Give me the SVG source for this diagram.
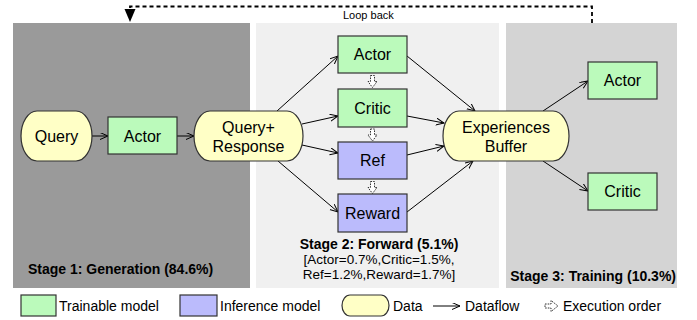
<svg xmlns="http://www.w3.org/2000/svg" width="697" height="320" viewBox="0 0 697 320">
<defs>
<marker id="arr" markerUnits="userSpaceOnUse" markerWidth="10" markerHeight="8" refX="8" refY="3.5" orient="auto">
<path d="M0,0 L8,3.5 L0,7" fill="none" stroke="#000" stroke-width="1"/>
</marker>
</defs>
<style>
text{font-family:"Liberation Sans",Arial,sans-serif;fill:#000}
.lbl{font-size:16px;text-anchor:middle}
.stg{font-size:14px;font-weight:bold}
.sm{font-size:13.5px}
.leg{font-size:14px}
.tr{fill:#bbfabb;stroke:#333;stroke-width:1.2}
.inf{fill:#bbbbfc;stroke:#333;stroke-width:1.2}
.data{fill:#ffffc6;stroke:#333;stroke-width:1.2}
.flow{fill:none;stroke:#000;stroke-width:1;marker-end:url(#arr)}
.ex{fill:#fff;stroke:#333;stroke-width:1;stroke-dasharray:1.6 1.1}
</style>
<g id="panels">
<rect x="13" y="23" width="237" height="265" fill="#9a9a9a"/>
<rect x="256" y="23" width="243" height="265" fill="#f0f0f0"/>
<rect x="506" y="23" width="171" height="265" fill="#d4d4d4"/>
<text class="stg" x="28" y="274">Stage 1: Generation (84.6%)</text>
<text class="stg" x="379" y="249" text-anchor="middle">Stage 2: Forward (5.1%)</text>
<text class="sm" x="379" y="264" text-anchor="middle">[Actor=0.7%,Critic=1.5%,</text>
<text class="sm" x="379" y="279" text-anchor="middle">Ref=1.2%,Reward=1.7%]</text>
<text class="stg" x="676" y="281" text-anchor="end">Stage 3: Training (10.3%)</text>
</g>
<g id="loop">
<path d="M592,23 V6.5 H130 V10" fill="none" stroke="#000" stroke-width="1.8" stroke-dasharray="4 3"/>
<path d="M124.5,9 L135.5,9 L130,22 Z" fill="#000"/>
<text x="343" y="19" style="font-size:11px">Loop back</text>
</g>
<g id="connectors">
<path class="flow" d="M92,136 L108,136"/>
<path class="flow" d="M177,136 L194,136"/>
<path class="flow" d="M277,111 L338,56"/>
<path class="flow" d="M302,124 L338,116"/>
<path class="flow" d="M302,145 L338,153"/>
<path class="flow" d="M278,161 L338,212"/>
<path class="flow" d="M407,56 L475,111"/>
<path class="flow" d="M407,116 L444,123"/>
<path class="flow" d="M407,155 L444,146"/>
<path class="flow" d="M407,212 L473,161"/>
<path class="flow" d="M543,111 L588,81"/>
<path class="flow" d="M543,161 L588,191"/>
<path class="ex" d="M370.5,75.5 H374.5 V81.5 H377 L372.5,87.5 L368,81.5 H370.5 Z"/>
<path class="ex" d="M370.5,129 H374.5 V135 H377 L372.5,141 L368,135 H370.5 Z"/>
<path class="ex" d="M370.5,181.5 H374.5 V187.5 H377 L372.5,193.5 L368,187.5 H370.5 Z"/>
</g>
<g id="query">
<rect class="data" x="21" y="111" width="71" height="50" rx="16" ry="25"/>
<text class="lbl" x="56.5" y="142">Query</text>
</g>
<g id="actor1">
<rect class="tr" x="108" y="117" width="69" height="37"/>
<text class="lbl" x="142.5" y="142">Actor</text>
</g>
<g id="qr">
<rect class="data" x="194" y="111" width="109" height="50" rx="16" ry="25"/>
<text class="lbl" x="248.5" y="133">Query+</text>
<text class="lbl" x="248.5" y="152">Response</text>
</g>
<g id="actor2">
<rect class="tr" x="338" y="36" width="69" height="37"/>
<text class="lbl" x="372.5" y="60">Actor</text>
</g>
<g id="critic2">
<rect class="tr" x="338" y="89" width="69" height="38"/>
<text class="lbl" x="372.5" y="114">Critic</text>
</g>
<g id="ref">
<rect class="inf" x="338" y="142" width="69" height="37"/>
<text class="lbl" x="372.5" y="166">Ref</text>
</g>
<g id="reward">
<rect class="inf" x="338" y="194" width="69" height="38"/>
<text class="lbl" x="372.5" y="219">Reward</text>
</g>
<g id="buffer">
<rect class="data" x="443" y="111" width="126" height="50" rx="16" ry="25"/>
<text class="lbl" x="506" y="133">Experiences</text>
<text class="lbl" x="506" y="152">Buffer</text>
</g>
<g id="actor3">
<rect class="tr" x="588" y="62" width="69" height="37"/>
<text class="lbl" x="622.5" y="86">Actor</text>
</g>
<g id="critic3">
<rect class="tr" x="588" y="173" width="69" height="37"/>
<text class="lbl" x="622.5" y="197">Critic</text>
</g>
<g id="legend">
<rect class="tr" x="21" y="295" width="35" height="21"/>
<text class="leg" x="59" y="311">Trainable model</text>
<rect class="inf" x="180" y="295" width="37" height="21"/>
<text class="leg" x="220" y="311">Inference model</text>
<rect class="data" x="342" y="295" width="47" height="21" rx="8" ry="10.5"/>
<text class="leg" x="393" y="311">Data</text>
<path class="flow" d="M433,306 L460,306"/>
<text class="leg" x="465" y="311">Dataflow</text>
<path class="ex" d="M545,304 H551 V300.5 L558,306 L551,311.5 V308 H545 Z"/>
<text class="leg" x="563" y="311">Execution order</text>
</g>
</svg>
